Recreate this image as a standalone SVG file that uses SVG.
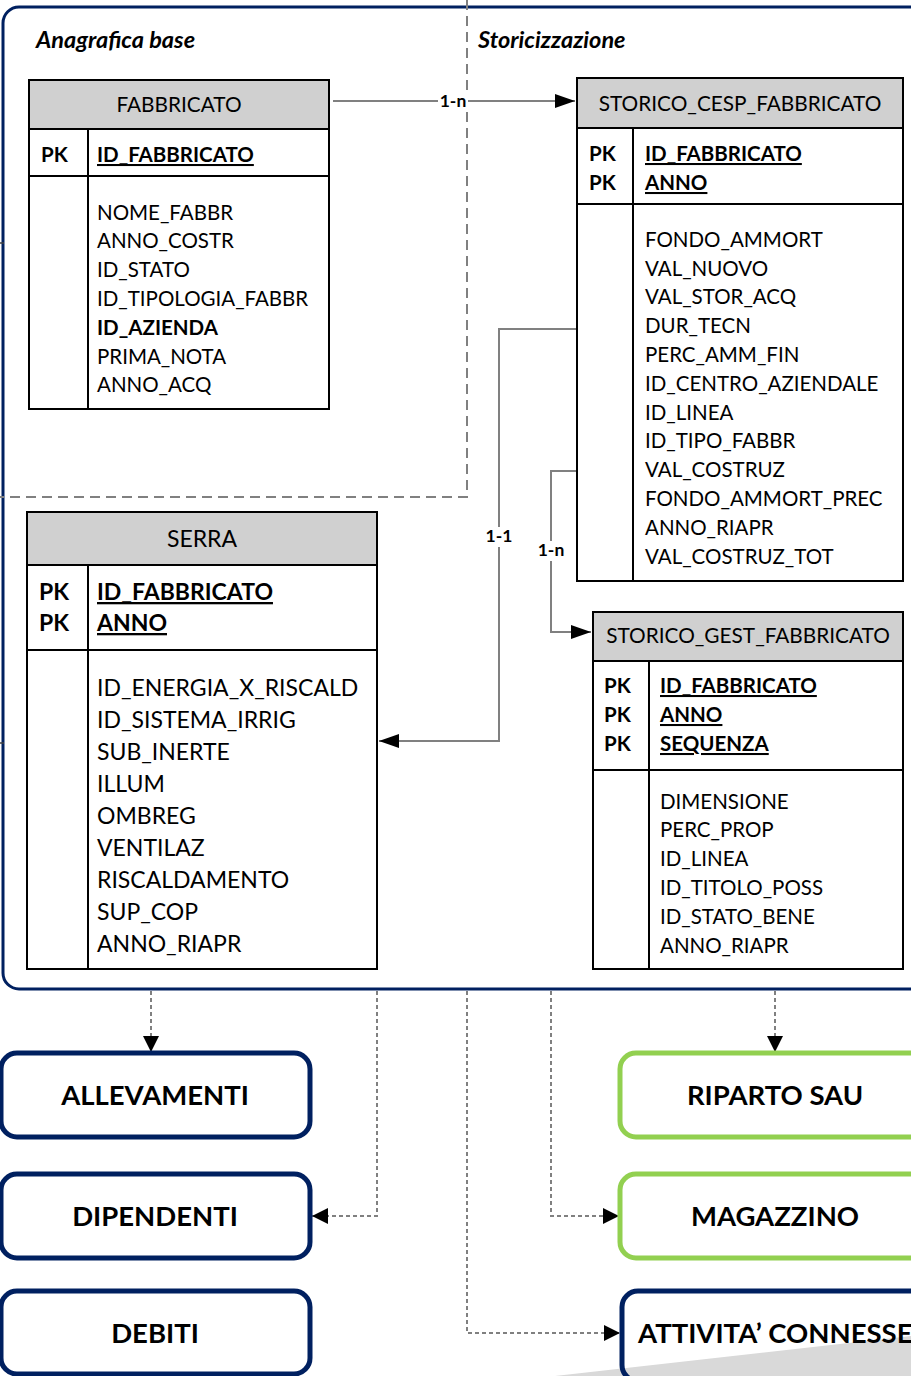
<svg xmlns="http://www.w3.org/2000/svg" width="911" height="1376" viewBox="0 0 911 1376">
<defs>
<style>
.t{font-family:Lato,"Liberation Sans",sans-serif;fill:#000}
.f{font-size:20.5px}
.h{font-size:20.8px}
.fs{font-size:23px}
.b{font-weight:bold}
.u{text-decoration:underline}
.hdr{fill:#d0d0d0;stroke:#000;stroke-width:2}
.box{fill:#fff;stroke:#000;stroke-width:2}
.ln{stroke:#000;stroke-width:2;fill:none}
.con{stroke:#808080;stroke-width:2;fill:none}
.dot{stroke:#808080;stroke-width:2;fill:none;stroke-dasharray:4 3}
.lbl{font-family:Lato,"Liberation Sans",sans-serif;font-size:17.5px;font-weight:bold;text-anchor:middle}
.nav{fill:#fff;stroke:#002060;stroke-width:5}
.grn{fill:#fff;stroke:#92d050;stroke-width:5}
.big{font-family:Lato,"Liberation Sans",sans-serif;font-size:27.5px;font-weight:bold}
.c{text-anchor:middle}
</style>
<marker id="ar" viewBox="0 0 20 14" refX="20" refY="7" markerWidth="20" markerHeight="14" markerUnits="userSpaceOnUse" orient="auto">
<path d="M0,0 L20,7 L0,14 Z" fill="#000"/>
</marker>
<marker id="ar2" viewBox="0 0 16 16" refX="16" refY="8" markerWidth="16" markerHeight="16" markerUnits="userSpaceOnUse" orient="auto">
<path d="M0,0 L16,8 L0,16 Z" fill="#000"/>
</marker>
</defs>
<rect width="911" height="1376" fill="#fff"/>

<!-- outer frame -->
<rect x="3" y="7" width="940" height="982" rx="16" fill="none" stroke="#002060" stroke-width="3"/>

<!-- section divider -->
<path d="M467,0 V497 H0" fill="none" stroke="#808080" stroke-width="2" stroke-dasharray="10 6"/>
<text class="t b" x="36" y="48" font-size="23.5" font-style="italic">Anagrafica base</text>
<text class="t b" x="478" y="48" font-size="23.5" font-style="italic">Storicizzazione</text>

<!-- connectors -->
<g id="connectors">
<line class="con" x1="333" y1="101" x2="575" y2="101" marker-end="url(#ar)"/>
<rect x="438" y="92" width="30" height="18" fill="#fff"/>
<text class="lbl" x="453" y="107">1-n</text>
<path class="con" d="M577,329 H499 V741 H379" marker-end="url(#ar)"/>
<rect x="485" y="527" width="28" height="20" fill="#fff"/>
<text class="lbl" x="499" y="542">1-1</text>
<path class="con" d="M580,471 H551 V632 H591" marker-end="url(#ar)"/>
<rect x="537" y="541" width="28" height="20" fill="#fff"/>
<text class="lbl" x="551" y="556">1-n</text>
<path class="dot" d="M151,991 V1052" marker-end="url(#ar2)"/>
<path class="dot" d="M377,991 V1216 H312" marker-end="url(#ar2)"/>
<path class="dot" d="M467,991 V1333 H620" marker-end="url(#ar2)"/>
<path class="dot" d="M551,991 V1216 H619" marker-end="url(#ar2)"/>
<path class="dot" d="M775,991 V1052" marker-end="url(#ar2)"/>
<line x1="0" y1="243" x2="4" y2="243" stroke="#404040" stroke-width="1.5"/>
<line x1="0" y1="743" x2="4" y2="743" stroke="#404040" stroke-width="1.5"/>
</g>

<!-- FABBRICATO -->
<g id="fabbricato">
<rect class="hdr" x="29" y="80" width="300" height="49"/>
<rect class="box" x="29" y="129" width="300" height="280"/>
<line class="ln" x1="29" y1="176" x2="329" y2="176"/>
<line class="ln" x1="88" y1="129" x2="88" y2="409"/>
<text class="t h c" x="179" y="112">FABBRICATO</text>
<text class="t f b" x="41" y="162">PK</text>
<text class="t f b u" x="97" y="162">ID_FABBRICATO</text>
<text class="t f" x="97" y="220">NOME_FABBR</text>
<text class="t f" x="97" y="248">ANNO_COSTR</text>
<text class="t f" x="97" y="277">ID_STATO</text>
<text class="t f" x="97" y="306">ID_TIPOLOGIA_FABBR</text>
<text class="t f b" x="97" y="335">ID_AZIENDA</text>
<text class="t f" x="97" y="364">PRIMA_NOTA</text>
<text class="t f" x="97" y="392">ANNO_ACQ</text>
</g>

<!-- STORICO_CESP_FABBRICATO -->
<g id="storico_cesp">
<rect class="hdr" x="577" y="78" width="326" height="50"/>
<rect class="box" x="577" y="128" width="326" height="453"/>
<line class="ln" x1="577" y1="204" x2="903" y2="204"/>
<line class="ln" x1="633" y1="128" x2="633" y2="581"/>
<text class="t h c" x="740" y="111">STORICO_CESP_FABBRICATO</text>
<text class="t f b" x="589" y="161">PK</text>
<text class="t f b" x="589" y="190">PK</text>
<text class="t f b u" x="645" y="161">ID_FABBRICATO</text>
<text class="t f b u" x="645" y="190">ANNO</text>
<text class="t f" x="645" y="247">FONDO_AMMORT</text>
<text class="t f" x="645" y="276">VAL_NUOVO</text>
<text class="t f" x="645" y="304">VAL_STOR_ACQ</text>
<text class="t f" x="645" y="333">DUR_TECN</text>
<text class="t f" x="645" y="362">PERC_AMM_FIN</text>
<text class="t f" x="645" y="391">ID_CENTRO_AZIENDALE</text>
<text class="t f" x="645" y="420">ID_LINEA</text>
<text class="t f" x="645" y="448">ID_TIPO_FABBR</text>
<text class="t f" x="645" y="477">VAL_COSTRUZ</text>
<text class="t f" x="645" y="506">FONDO_AMMORT_PREC</text>
<text class="t f" x="645" y="535">ANNO_RIAPR</text>
<text class="t f" x="645" y="564">VAL_COSTRUZ_TOT</text>
</g>

<!-- SERRA -->
<g id="serra">
<rect class="hdr" x="27" y="512" width="350" height="53"/>
<rect class="box" x="27" y="565" width="350" height="404"/>
<line class="ln" x1="27" y1="650" x2="377" y2="650"/>
<line class="ln" x1="88" y1="565" x2="88" y2="969"/>
<text class="t fs c" x="202" y="547">SERRA</text>
<text class="t fs b" x="39" y="600">PK</text>
<text class="t fs b" x="39" y="631">PK</text>
<text class="t fs b u" x="97" y="600">ID_FABBRICATO</text>
<text class="t fs b u" x="97" y="631">ANNO</text>
<text class="t fs" x="97" y="696">ID_ENERGIA_X_RISCALD</text>
<text class="t fs" x="97" y="728">ID_SISTEMA_IRRIG</text>
<text class="t fs" x="97" y="760">SUB_INERTE</text>
<text class="t fs" x="97" y="792">ILLUM</text>
<text class="t fs" x="97" y="824">OMBREG</text>
<text class="t fs" x="97" y="856">VENTILAZ</text>
<text class="t fs" x="97" y="888">RISCALDAMENTO</text>
<text class="t fs" x="97" y="920">SUP_COP</text>
<text class="t fs" x="97" y="952">ANNO_RIAPR</text>
</g>

<!-- STORICO_GEST_FABBRICATO -->
<g id="storico_gest">
<rect class="hdr" x="593" y="612" width="310" height="49"/>
<rect class="box" x="593" y="661" width="310" height="308"/>
<line class="ln" x1="593" y1="770" x2="903" y2="770"/>
<line class="ln" x1="649" y1="661" x2="649" y2="969"/>
<text class="t h c" x="748" y="643">STORICO_GEST_FABBRICATO</text>
<text class="t f b" x="604" y="693">PK</text>
<text class="t f b" x="604" y="722">PK</text>
<text class="t f b" x="604" y="751">PK</text>
<text class="t f b u" x="660" y="693">ID_FABBRICATO</text>
<text class="t f b u" x="660" y="722">ANNO</text>
<text class="t f b u" x="660" y="751">SEQUENZA</text>
<text class="t f" x="660" y="809">DIMENSIONE</text>
<text class="t f" x="660" y="837">PERC_PROP</text>
<text class="t f" x="660" y="866">ID_LINEA</text>
<text class="t f" x="660" y="895">ID_TITOLO_POSS</text>
<text class="t f" x="660" y="924">ID_STATO_BENE</text>
<text class="t f" x="660" y="953">ANNO_RIAPR</text>
</g>

<!-- bottom boxes -->
<g id="allevamenti">
<rect class="nav" x="1" y="1053" width="309" height="84" rx="16"/>
<text class="big c" x="155" y="1105">ALLEVAMENTI</text>
</g>
<g id="dipendenti">
<rect class="nav" x="1" y="1174" width="309" height="84" rx="16"/>
<text class="big c" x="155" y="1226">DIPENDENTI</text>
</g>
<g id="debiti">
<rect class="nav" x="1" y="1291" width="309" height="83" rx="16"/>
<text class="big c" x="155" y="1343">DEBITI</text>
</g>
<g id="riparto_sau">
<rect class="grn" x="620" y="1053" width="320" height="84" rx="16"/>
<text class="big c" x="775" y="1105">RIPARTO SAU</text>
</g>
<g id="magazzino">
<rect class="grn" x="620" y="1174" width="320" height="84" rx="16"/>
<text class="big c" x="775" y="1226">MAGAZZINO</text>
</g>
<g id="attivita_connesse">
<rect x="622" y="1291" width="320" height="90" rx="16" fill="#fff"/>
<polygon points="555,1376 911,1336 911,1376" fill="#d9d9d9"/>
<rect x="622" y="1291" width="320" height="90" rx="16" fill="none" stroke="#002060" stroke-width="5"/>
<text class="big" x="638" y="1343">ATTIVITA’ CONNESSE</text>
</g>
</svg>
